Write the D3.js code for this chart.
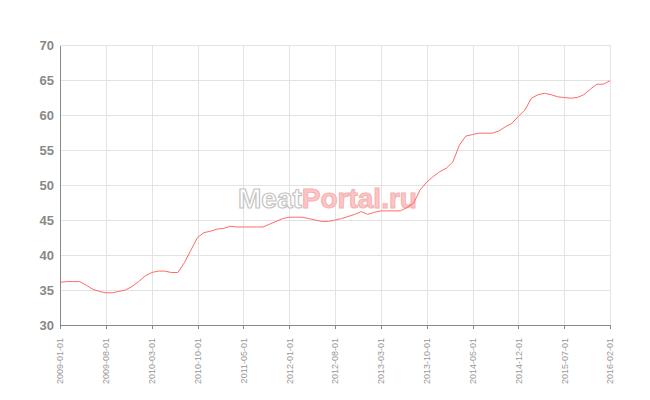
<!DOCTYPE html>
<html><head><meta charset="utf-8">
<script src="https://cdn.jsdelivr.net/npm/d3@7"></script>
<style>body{margin:0;background:#fff}svg{display:block}</style>
</head><body>
<script>
// Monthly categories (one month absent between 2011-05 and 2012-01 in the source)
const categories = [
 "2009-01-01","2009-02-01","2009-03-01","2009-04-01","2009-05-01","2009-06-01","2009-07-01","2009-08-01","2009-09-01","2009-10-01","2009-11-01","2009-12-01",
 "2010-01-01","2010-02-01","2010-03-01","2010-04-01","2010-05-01","2010-06-01","2010-07-01","2010-08-01","2010-09-01","2010-10-01","2010-11-01","2010-12-01",
 "2011-01-01","2011-02-01","2011-03-01","2011-04-01","2011-05-01","2011-06-01","2011-07-01","2011-08-01","2011-09-01","2011-10-01","2011-11-01",
 "2012-01-01","2012-02-01","2012-03-01","2012-04-01","2012-05-01","2012-06-01","2012-07-01","2012-08-01","2012-09-01","2012-10-01","2012-11-01","2012-12-01",
 "2013-01-01","2013-02-01","2013-03-01","2013-04-01","2013-05-01","2013-06-01","2013-07-01","2013-08-01","2013-09-01","2013-10-01","2013-11-01","2013-12-01",
 "2014-01-01","2014-02-01","2014-03-01","2014-04-01","2014-05-01","2014-06-01","2014-07-01","2014-08-01","2014-09-01","2014-10-01","2014-11-01","2014-12-01",
 "2015-01-01","2015-02-01","2015-03-01","2015-04-01","2015-05-01","2015-06-01","2015-07-01","2015-08-01","2015-09-01","2015-10-01","2015-11-01","2015-12-01",
 "2016-01-01","2016-02-01"
];
const values = [
 36.1,36.2,36.2,36.2,35.7,35.1,34.8,34.6,34.6,34.8,35.0,35.5,
 36.2,37.0,37.5,37.7,37.7,37.5,37.5,38.9,40.7,42.5,43.2,43.4,
 43.7,43.8,44.1,44.0,44.0,44.0,44.0,44.0,44.4,44.8,45.2,
 45.4,45.4,45.4,45.2,45.0,44.8,44.8,45.0,45.2,45.5,45.8,46.2,
 45.8,46.1,46.3,46.3,46.3,46.3,46.8,47.4,49.3,50.4,51.2,51.9,
 52.4,53.3,55.7,57.0,57.2,57.4,57.4,57.4,57.7,58.3,58.8,59.8,
 60.7,62.4,62.9,63.1,62.9,62.6,62.5,62.4,62.5,62.9,63.7,64.4,
 64.4,64.9
];
const xTickLabels = ["2009-01-01","2009-08-01","2010-03-01","2010-10-01","2011-05-01","2012-01-01","2012-08-01","2013-03-01","2013-10-01","2014-05-01","2014-12-01","2015-07-01","2016-02-01"];
const yTicks = [30,35,40,45,50,55,60,65,70];

const W = 650, H = 400;
const mLeft = 60, mRight = 610, mTop = 45, mBottom = 325;

const svg = d3.select("body").append("svg").attr("width", W).attr("height", H);

const x = d3.scalePoint().domain(categories).range([mLeft, mRight]);
const y = d3.scaleLinear().domain([30, 70]).range([mBottom, mTop]);

// horizontal grid
svg.append("g").attr("transform", `translate(${mLeft},0)`)
  .call(d3.axisLeft(y).tickValues(yTicks).tickSize(-(mRight - mLeft)).tickFormat(""))
  .call(g => g.select(".domain").remove())
  .call(g => g.selectAll("line").attr("stroke", "#e3e3e3").attr("shape-rendering", "crispEdges"));

// vertical grid
svg.append("g").attr("transform", `translate(0,${mBottom})`)
  .call(d3.axisBottom(x).tickValues(xTickLabels).tickSize(-(mBottom - mTop)).tickFormat(""))
  .call(g => g.select(".domain").remove())
  .call(g => g.selectAll("line").attr("stroke", "#e3e3e3").attr("shape-rendering", "crispEdges"));

// watermark
const wm = svg.append("text").attr("x", 238).attr("y", 208)
  .attr("font-family", "Liberation Sans, Arial, sans-serif").attr("font-weight", "bold").attr("font-size", 28);
wm.append("tspan").text("Meat").attr("fill", "#ffffff").attr("stroke", "#c4c4c4").attr("stroke-width", 1.2);
wm.append("tspan").text("Portal.ru").attr("fill", "#ffc4c4").attr("stroke", "#f2b2b2").attr("stroke-width", 1);

// line
svg.append("path").datum(values)
  .attr("fill", "none").attr("stroke", "#ff6a6a").attr("stroke-width", 1)
  .attr("d", d3.line().x((d, i) => x(categories[i])).y(d => y(d)));

// y axis
const ya = svg.append("g").attr("transform", `translate(${mLeft},0)`)
  .call(d3.axisLeft(y).tickValues(yTicks).tickSize(0).tickPadding(6));
ya.select(".domain").attr("stroke", "#888").attr("shape-rendering", "crispEdges");
ya.selectAll("text").attr("fill", "#888").attr("font-family", "Liberation Sans, Arial, sans-serif")
  .attr("font-weight", "bold").attr("font-size", 13);

// x axis
const xa = svg.append("g").attr("transform", `translate(0,${mBottom})`)
  .call(d3.axisBottom(x).tickValues(xTickLabels).tickSize(4).tickSizeOuter(0));
xa.select(".domain").attr("stroke", "#888").attr("shape-rendering", "crispEdges");
xa.selectAll("line").attr("stroke", "#888").attr("shape-rendering", "crispEdges");
xa.selectAll("text")
  .attr("transform", "rotate(-90)")
  .attr("text-anchor", "end")
  .attr("x", -13).attr("y", 0).attr("dy", "0.33em")
  .attr("fill", "#999").attr("font-family", "Liberation Sans, Arial, sans-serif").attr("font-size", 9);
</script>
</body></html>
